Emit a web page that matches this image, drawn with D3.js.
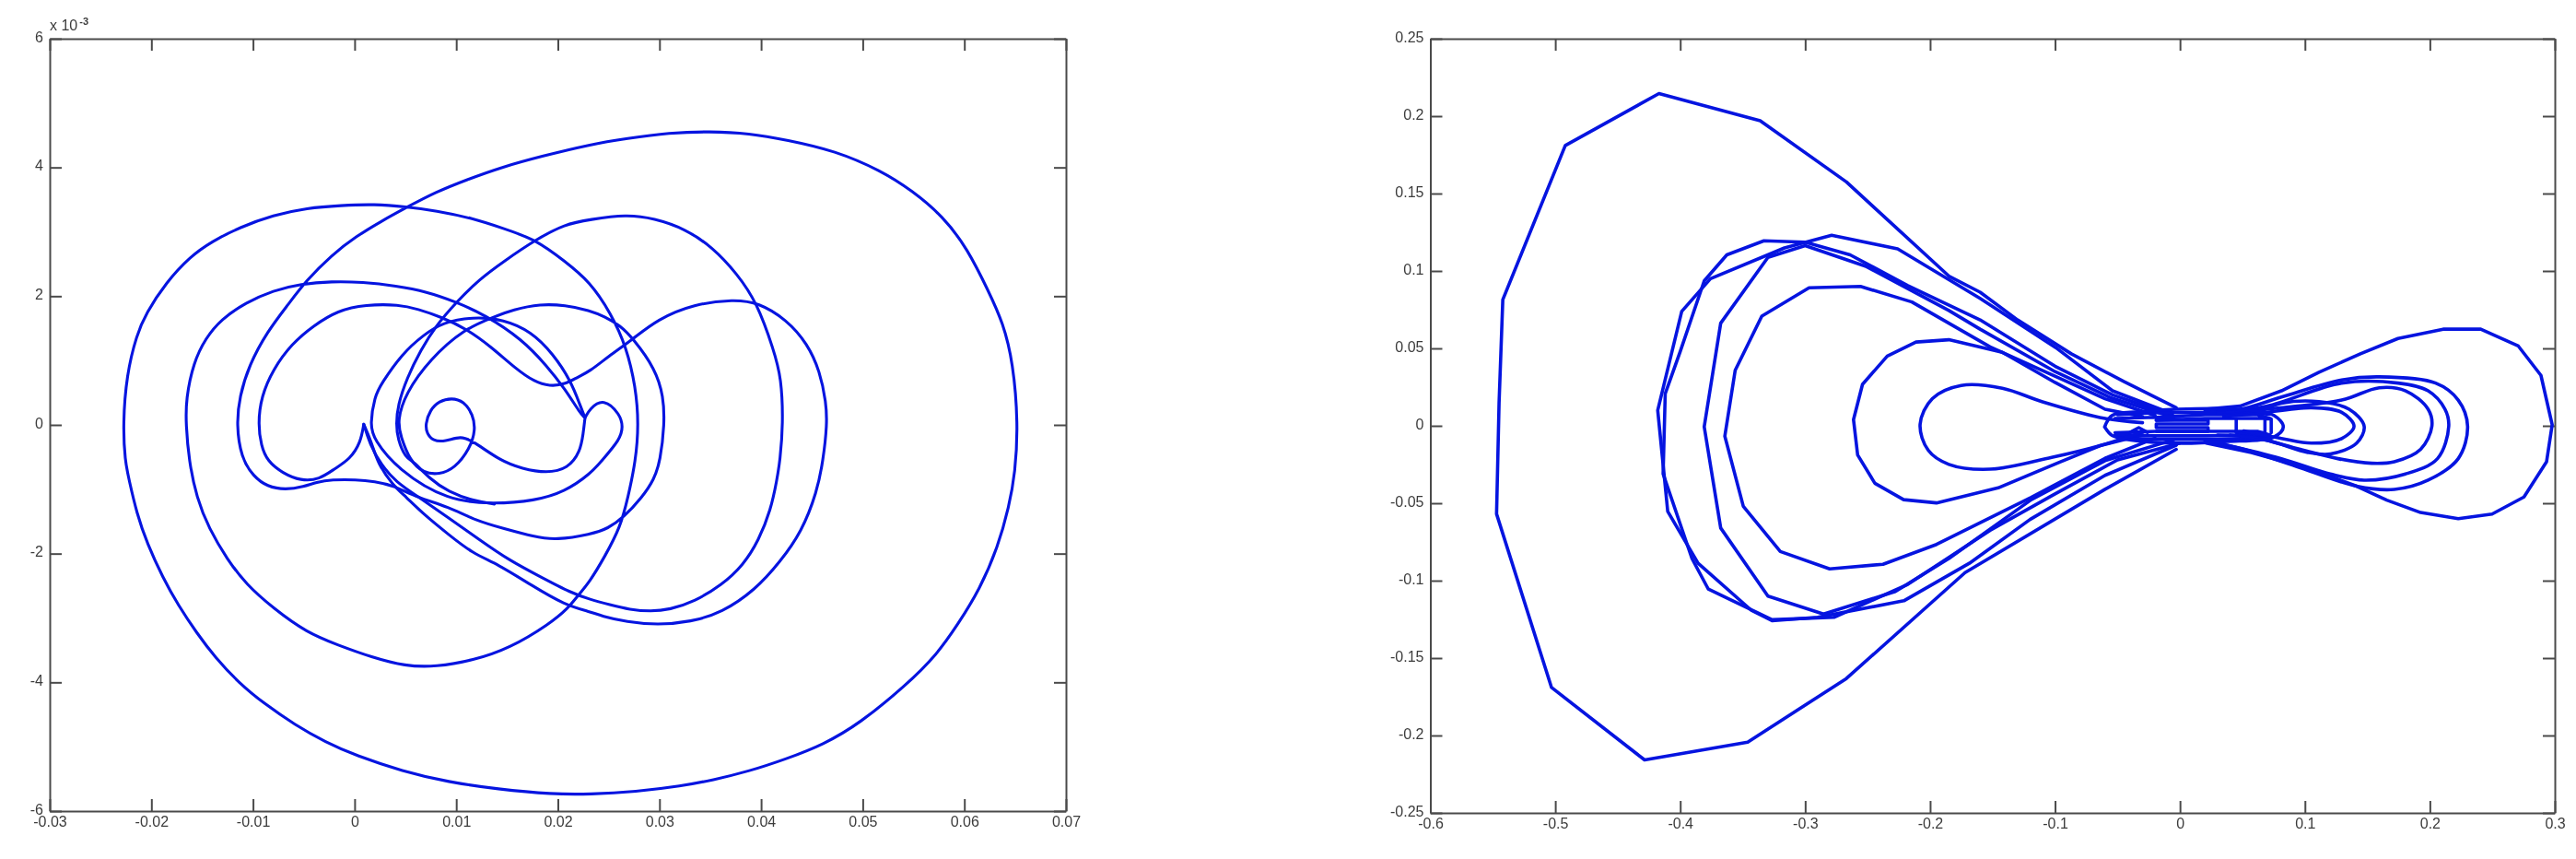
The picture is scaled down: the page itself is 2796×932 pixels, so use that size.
<!DOCTYPE html>
<html><head><meta charset="utf-8">
<script src="https://cdn.jsdelivr.net/npm/d3@7"></script>
<style>
html,body{margin:0;padding:0;background:#fff;overflow:hidden}
svg{display:block;filter:blur(0.6px)}
text{font-family:"Liberation Sans",Arial,sans-serif;font-size:16px;fill:#3c3c3c}
</style></head><body>
<svg id="chart" width="2796" height="932"></svg>
<script>
// ---------- left panel: x in units of 1e-3, y in units of 1e-3 ----------
const leftXTicks=[-0.03,-0.02,-0.01,0,0.01,0.02,0.03,0.04,0.05,0.06,0.07];
const leftXLabels=["-0.03","-0.02","-0.01","0","0.01","0.02","0.03","0.04","0.05","0.06","0.07"];
const leftYTicks=[-6,-4,-2,0,2,4,6];
const leftYLabels=["-6","-4","-2","0","2","4","6"];
const leftInnerArc=[[0.9,0.01],[0.6,-0.27],[-0.44,-0.53],[-1.96,-0.68],[-3.47,-0.85],[-5.28,-0.87],[-7.09,-0.75],[-8.6,-0.56],[-9.2,-0.32],[-9.5,0.01],[-9.2,0.44],[-8,0.87],[-6.19,1.26],[-4.07,1.54],[-1.65,1.78],[1.07,1.87],[4.39,1.87],[6.2,1.8],[8.48,1.68],[11.05,1.49],[13.46,1.21],[15.88,0.87],[17.69,0.67],[19.2,0.6],[20.7,0.63],[21.92,0.74],[23.13,0.83],[24.94,1.06],[27.36,1.33],[29.78,1.64],[33.4,1.88],[37.33,1.95],[39.75,1.9],[42.47,1.64],[44.58,1.26],[45.79,0.83],[46.4,0.35],[46.5,0.01],[46.1,-0.56],[45.5,-1.04],[44,-1.66],[41.86,-2.13],[39.45,-2.56],[36.12,-2.92],[33.1,-3.06],[29.8,-3.11],[26.75,-3.06],[24.3,-2.97],[23.13,-2.9],[20.7,-2.8],[17.38,-2.49],[14.06,-2.16],[11.64,-2],[9.22,-1.7],[6.8,-1.39],[5,-1.11],[3.79,-0.94],[2.27,-0.6],[1.67,-0.27],[0.9,0.01]];
const leftHookArc=[[22.67,0.11],[23.13,0.25],[24.5,0.42],[26.15,0.16],[26.4,-0.03],[26.15,-0.22],[24.3,-0.56],[23.27,-0.75],[20.7,-1.04],[17.7,-1.18],[13.76,-1.23],[9.14,-1.18],[4.27,-0.7],[1.86,-0.22],[1.52,0.01],[1.97,0.44],[2.58,0.63],[4.69,1.11],[6.81,1.4],[8.63,1.59],[11.65,1.68],[14.67,1.64],[17.38,1.45],[19.5,1.11],[21.3,0.68],[22.2,0.3],[22.67,0.11]];
const leftLongArc=[[22.67,0.11],[22.5,-0.13],[22.2,-0.42],[21,-0.68],[18.9,-0.75],[16.48,-0.68],[14.37,-0.56],[11.65,-0.25],[10.44,-0.17],[8.92,-0.26],[7.7,-0.25],[7.1,-0.13],[6.96,0.01],[7.41,0.23],[8.32,0.37],[9.53,0.42],[10.74,0.37],[11.65,0.16],[11.9,-0.08],[11.35,-0.37],[9.83,-0.68],[8.32,-0.77],[6.81,-0.75],[5.45,-0.56],[4.54,-0.18],[4.2,0.06],[5,0.49],[7.41,1.02],[10.75,1.49],[13.76,1.68],[15.57,1.79],[18.29,1.88],[20.7,1.86],[23.13,1.78],[24.64,1.68],[26.15,1.54],[27.36,1.35],[29.6,0.87],[30.4,0.44],[30.5,0.01],[30.08,-0.56],[29.47,-0.85],[28.27,-1.13],[26.45,-1.44],[24.94,-1.61],[23.27,-1.7],[19.8,-1.79],[17.69,-1.74],[14.67,-1.61],[11.95,-1.49],[9.22,-1.27],[6.2,-1.13],[3.79,-0.94],[1.98,-0.88],[0.16,-0.85],[-2.26,-0.85],[-3.77,-0.89],[-4.98,-0.96],[-6.8,-1.01],[-8.6,-0.96],[-9.96,-0.8],[-11.17,-0.51],[-11.63,0.01],[-11.32,0.44],[-10.41,0.92],[-8.6,1.45],[-6.49,1.88],[-4.83,2.23],[-2.26,2.64],[0.16,2.93],[2.58,3.16],[5,3.37],[8,3.62],[11.04,3.81],[14.37,4],[18.29,4.17],[23.27,4.36],[26.75,4.45],[30.99,4.54],[34.9,4.56],[38.84,4.53],[42.47,4.43],[47.3,4.26],[51.8,3.95],[54.86,3.64],[57.9,3.24],[60.3,2.74],[62.4,2.07],[63.8,1.59],[64.8,0.97],[65.3,0.01],[65,-0.75],[64.4,-1.27],[63.3,-1.9],[61.5,-2.56],[59.4,-3.09],[57.3,-3.57],[54.3,-4.04],[49.7,-4.64],[46.1,-4.97],[42.47,-5.19],[38.84,-5.38],[35.2,-5.52],[32.2,-5.61],[27.66,-5.7],[23.13,-5.74],[19.5,-5.74],[14.06,-5.66],[9.22,-5.55],[4.7,-5.38],[0.16,-5.14],[-2.86,-4.93],[-5.88,-4.66],[-8.9,-4.33],[-11.32,-4.02],[-13.74,-3.61],[-15.55,-3.23],[-17.37,-2.8],[-18.88,-2.37],[-20.4,-1.85],[-21.45,-1.37],[-22.2,-0.85],[-22.6,-0.56],[-22.8,0.01],[-22.44,0.78],[-21.45,1.4],[-20.54,1.73],[-18.57,2.21],[-16.16,2.62],[-14.04,2.85],[-11.32,3.07],[-8,3.26],[-4.68,3.37],[-1.35,3.41],[1.97,3.43],[5,3.39],[8,3.33],[11.65,3.21],[14.67,3.05],[17.84,2.88],[20.7,2.54],[23.13,2.23],[25.24,1.73],[26.75,1.21],[27.66,0.59],[27.96,0.01],[27.66,-0.56],[26.9,-1.13],[26.15,-1.59],[24.64,-2.04],[23.13,-2.44],[21.92,-2.66],[21,-2.85],[19.2,-3.09],[15.27,-3.47],[11.65,-3.66],[8,-3.76],[5,-3.75],[1.67,-3.61],[-1.65,-3.42],[-4.68,-3.23],[-8,-2.85],[-10.72,-2.47],[-12.53,-2.09],[-14.34,-1.61],[-15.55,-1.13],[-16.3,-0.56],[-16.6,0.01],[-16.6,0.4],[-15.86,0.97],[-14.65,1.35],[-13.14,1.64],[-10.72,1.9],[-8,2.09],[-5.28,2.19],[-2.26,2.23],[0.76,2.22],[4.09,2.16],[7.11,2.07],[9.83,1.92],[12.85,1.71],[16.48,1.33],[18.9,0.92],[20.7,0.56],[22.2,0.18],[22.67,0.11]];
const leftMiddleArc=[[0.9,0.01],[1.5,-0.3],[2.6,-0.62],[4.09,-0.89],[6.2,-1.11],[9.22,-1.44],[12.25,-1.78],[15.27,-2.11],[18.29,-2.36],[21.3,-2.61],[23.13,-2.71],[25.24,-2.8],[27.05,-2.87],[29.17,-2.9],[30.99,-2.87],[33.4,-2.75],[36.12,-2.49],[38.24,-2.18],[39.75,-1.8],[40.96,-1.32],[41.56,-0.85],[41.86,-0.56],[42.17,0.01],[42,0.73],[41.25,1.16],[39.6,1.9],[37.63,2.35],[35.22,2.76],[32.5,3.05],[29.47,3.21],[26.75,3.27],[23.13,3.19],[20.7,3.12],[17.84,2.88],[14.67,2.54],[12.25,2.26],[9.98,1.9],[8,1.54],[6.5,1.16],[5.15,0.73],[4.24,0.3],[4.09,0.01],[4.24,-0.22],[5,-0.51],[5.75,-0.56],[7.41,-0.84],[9.22,-1.04],[11.64,-1.18],[13.76,-1.23]];

// ---------- right panel ----------
const rightXTicks=[-0.6,-0.5,-0.4,-0.3,-0.2,-0.1,0,0.1,0.2,0.3];
const rightXLabels=["-0.6","-0.5","-0.4","-0.3","-0.2","-0.1","0","0.1","0.2","0.3"];
const rightYTicks=[-0.25,-0.2,-0.15,-0.1,-0.05,0,0.05,0.1,0.15,0.2,0.25];
const rightYLabels=["-0.25","-0.2","-0.15","-0.1","-0.05","0","0.05","0.1","0.15","0.2","0.25"];
const lobeL1=[[-0.003,0.0117],[-0.045,0.0286],[-0.087,0.0465],[-0.13,0.0684],[-0.16,0.0863],[-0.185,0.0967],[-0.267,0.1575],[-0.336,0.197],[-0.417,0.2146],[-0.492,0.181],[-0.542,0.0815],[-0.545,0.0146],[-0.547,-0.0569],[-0.503,-0.169],[-0.4285,-0.2158],[-0.346,-0.2043],[-0.267,-0.1632],[-0.172,-0.0948],[-0.06,-0.041],[-0.003,-0.0152]];
const lobeL2=[[-0.009,0.0087],[-0.054,0.0226],[-0.0994,0.0505],[-0.16,0.0823],[-0.226,0.1143],[-0.2788,0.123],[-0.3166,0.1149],[-0.3758,0.095],[-0.3988,0.0739],[-0.418,0.01],[-0.41,-0.0553],[-0.3857,-0.0888],[-0.343,-0.1192],[-0.3265,-0.1259],[-0.29,-0.1237],[-0.221,-0.113],[-0.1686,-0.0888],[-0.12,-0.0605],[-0.06,-0.032],[-0.003,-0.0125]];
const lobeL3=[[-0.006,0.007],[-0.054,0.02],[-0.1,0.0385],[-0.16,0.0684],[-0.2179,0.0906],[-0.264,0.1104],[-0.3,0.1186],[-0.333,0.1195],[-0.3627,0.1104],[-0.3808,0.0936],[-0.4,0.048],[-0.412,0.0207],[-0.4137,-0.031],[-0.3906,-0.0857],[-0.3775,-0.1055],[-0.3265,-0.1252],[-0.277,-0.1237],[-0.2179,-0.1024],[-0.152,-0.0675],[-0.1,-0.044],[-0.05,-0.022],[0,-0.0112]];
const lobeL4=[[-0.01,0.0067],[-0.055,0.018],[-0.1,0.035],[-0.16,0.0624],[-0.185,0.0745],[-0.2508,0.1028],[-0.3,0.1164],[-0.3298,0.1088],[-0.3676,0.0663],[-0.3808,-0.0006],[-0.3676,-0.066],[-0.3298,-0.11],[-0.2853,-0.1216],[-0.2278,-0.107],[-0.185,-0.0857],[-0.119,-0.0477],[-0.06,-0.0225],[-0.005,-0.009]];
const lobeL5=[[-0.02,0.0067],[-0.06,0.0175],[-0.152,0.051],[-0.2146,0.08],[-0.2557,0.09],[-0.2969,0.0891],[-0.3347,0.0708],[-0.356,0.0359],[-0.3643,-0.0067],[-0.3495,-0.052],[-0.3199,-0.0812],[-0.2804,-0.0924],[-0.2377,-0.0894],[-0.1949,-0.0766],[-0.119,-0.0462],[-0.06,-0.021],[-0.02,-0.008]];
const lobeL6=[[-0.03,0.006],[-0.06,0.0107],[-0.1,0.028],[-0.1422,0.0475],[-0.185,0.0556],[-0.2113,0.0541],[-0.2343,0.045],[-0.2541,0.0268],[-0.2613,0.004],[-0.258,-0.0188],[-0.2442,-0.0371],[-0.2212,-0.0477],[-0.1949,-0.0498],[-0.1455,-0.0401],[-0.0962,-0.0234],[-0.0639,-0.0128],[-0.03,-0.006]];
const lobeL7=[[-0.03,0.002],[-0.06,0.0047],[-0.11,0.0155],[-0.1422,0.0243],[-0.1751,0.0261],[-0.1982,0.0176],[-0.208,0.0009],[-0.2015,-0.0158],[-0.185,-0.0249],[-0.152,-0.028],[-0.1027,-0.0204],[-0.0639,-0.0128],[-0.03,-0.004]];
const lobeR1=[[0.02,0.0107],[0.0481,0.0127],[0.0812,0.0226],[0.1113,0.0346],[0.1444,0.0465],[0.1745,0.0564],[0.2106,0.0624],[0.2407,0.0624],[0.2708,0.0515],[0.2889,0.0326],[0.2979,0.0007],[0.2934,-0.0232],[0.2753,-0.046],[0.2498,-0.057],[0.2227,-0.06],[0.1926,-0.056],[0.1655,-0.048],[0.1414,-0.039],[0.1053,-0.0281],[0.0571,-0.0172],[0.021,-0.0112]];
const lobeR2=[[0.02,0.0095],[0.0481,0.0107],[0.0812,0.0186],[0.1294,0.0296],[0.1595,0.0316],[0.2046,0.0276],[0.2227,0.0166],[0.2302,-0.0003],[0.2227,-0.0212],[0.1986,-0.0351],[0.1715,-0.0411],[0.1414,-0.039],[0.0963,-0.0271],[0.0511,-0.0152],[0.02,-0.0095]];
const lobeR3=[[0.03,0.009],[0.0692,0.0127],[0.1294,0.0276],[0.1745,0.0276],[0.1986,0.0226],[0.2121,0.0107],[0.2151,-0.0003],[0.2061,-0.0212],[0.1805,-0.0311],[0.1474,-0.0351],[0.1203,-0.0311],[0.0812,-0.0212],[0.036,-0.0122]];
const lobeR4=[[0.03,0.008],[0.0692,0.0107],[0.1294,0.0166],[0.1595,0.0246],[0.1806,0.0226],[0.1986,0.0107],[0.2016,-0.0003],[0.1926,-0.0152],[0.1715,-0.0232],[0.1535,-0.0242],[0.1264,-0.0212],[0.0963,-0.0152],[0.0571,-0.0072],[0.03,-0.006]];
const lobeR5=[[0.035,0.007],[0.0601,0.0087],[0.0812,0.0146],[0.1113,0.0156],[0.1354,0.0107],[0.1474,-0.0003],[0.1414,-0.0112],[0.1203,-0.0182],[0.1023,-0.0172],[0.0692,-0.0092],[0.04,-0.006]];
const lobeR6=[[0.035,0.006],[0.0601,0.0077],[0.1053,0.0117],[0.1294,0.0087],[0.1393,-0.0003],[0.1294,-0.0082],[0.1053,-0.0112],[0.0812,-0.0082],[0.0511,-0.0033]];
const coreOuter=[[-0.0603,-0.0007],[-0.0543,0.0067],[-0.033,0.0091],[-0.003,0.0107],[0.045,0.0107],[0.0752,0.0067],[0.0827,-0.0007],[0.0752,-0.0072],[0.036,-0.0102],[-0.003,-0.0112],[-0.039,-0.0092],[-0.0543,-0.0062],[-0.0603,-0.0007]];
const coreUpper=[[-0.052,0.0048],[-0.019,0.0055],[0.02,0.0071],[0.062,0.0071],[0.072,0.0048],[0.02,0.0048],[-0.019,0.0036]];
const coreLower=[[-0.052,-0.0045],[-0.019,-0.0036],[0.02,-0.0036],[0.062,-0.0036],[0.072,-0.006],[0.02,-0.0065],[-0.019,-0.0065],[-0.052,-0.006]];
const coreTopBand=[[-0.05,0.0072],[-0.019,0.0085],[0.05,0.0088],[0.072,0.0075]];
const coreBottomBand=[[-0.05,-0.0078],[-0.019,-0.0088],[0.03,-0.0088],[0.07,-0.0078]];
const coreFill=[[-0.019,0.0036],[0.0225,0.0036],[0.0225,0.0012],[-0.019,0.0012],[-0.019,-0.0012],[0.0225,-0.0012],[0.0225,-0.0036],[-0.019,-0.0036]];
const coreDividers=[[0.045,0.0045],[0.045,-0.0045],[0.068,-0.0045],[0.068,0.0045],[0.073,0.0045],[0.073,-0.0045]];
const coreBump=[[-0.04,-0.0042],[-0.033,-0.0012],[-0.026,-0.0042]];

const leftArcs=[leftInnerArc,leftHookArc,leftLongArc,leftMiddleArc];
const rightPolygons=[lobeL1,lobeL2,lobeL3,lobeL4,lobeL5,lobeL6,lobeR1,coreUpper,coreLower,coreTopBand,coreBottomBand,coreFill,coreDividers,coreBump];
const rightSmooth=[lobeL7,lobeR2,lobeR3,lobeR4,lobeR5,lobeR6,coreOuter];

const BLUE="#0514e0", AXIS="#4a4a4a";
const svg=d3.select("#chart");

function panel(box,xDom,yDom,xT,xL,yT,yL){
  const x=d3.scaleLinear().domain(xDom).range([box.l,box.r]);
  const y=d3.scaleLinear().domain(yDom).range([box.b,box.t]);
  const g=svg.append("g");
  const bottom=d3.axisBottom(x).tickValues(xT).tickFormat((d,i)=>xL[i]).tickSizeInner(-13).tickSizeOuter(0).tickPadding(5.5);
  const left=d3.axisLeft(y).tickValues(yT).tickFormat((d,i)=>yL[i]).tickSizeInner(-13).tickSizeOuter(0).tickPadding(7);
  const top=d3.axisTop(x).tickValues(xT).tickFormat("").tickSizeInner(-13).tickSizeOuter(0);
  const right=d3.axisRight(y).tickValues(yT).tickFormat("").tickSizeInner(-13).tickSizeOuter(0);
  const gb=g.append("g").attr("transform",`translate(0,${box.b})`).call(bottom);
  const gl=g.append("g").attr("transform",`translate(${box.l},0)`).call(left);
  const gt=g.append("g").attr("transform",`translate(0,${box.t})`).call(top);
  const gr=g.append("g").attr("transform",`translate(${box.r},0)`).call(right);
  gl.selectAll("text").attr("y",-2);
  [gb,gl,gt,gr].forEach(a=>{a.selectAll("path,line").attr("stroke",AXIS).attr("stroke-width",2);
    a.selectAll("text").style("font-size","16px").style("fill","#3c3c3c");a.attr("font-family",null).attr("font-size",null);});
  return {x,y,g};
}

const L=panel({l:54,r:1157,t:42,b:880},[-0.03,0.07],[-6,6],leftXTicks,leftXLabels,leftYTicks,leftYLabels);
const R=panel({l:1552.5,r:2773,t:42,b:882},[-0.6,0.3],[-0.25,0.25],rightXTicks,rightXLabels,rightYTicks,rightYLabels);

const leftLine=d3.line().x(d=>L.x(d[0]/1000)).y(d=>L.y(d[1])).curve(d3.curveBasis);
const rightPoly=d3.line().x(d=>R.x(d[0])).y(d=>R.y(d[1])).curve(d3.curveLinear);
const rightCurve=d3.line().x(d=>R.x(d[0])).y(d=>R.y(d[1])).curve(d3.curveCatmullRom.alpha(0.5));
function style(sel,w){return sel.attr("fill","none").attr("stroke",BLUE).attr("stroke-width",w).attr("stroke-linejoin","round").attr("stroke-linecap","round");}
style(L.g.selectAll("path.traj").data(leftArcs).join("path").attr("class","traj").attr("d",leftLine),3.1);
style(R.g.selectAll("path.poly").data(rightPolygons).join("path").attr("class","poly").attr("d",rightPoly),3.6);
style(R.g.selectAll("path.smooth").data(rightSmooth).join("path").attr("class","smooth").attr("d",rightCurve),3.6);

// axis multiplier of the left panel
const mult=L.g.append("text").attr("x",54).attr("y",33);
mult.append("tspan").text("x 10");
mult.append("tspan").attr("dx",2).attr("dy",-6).style("font-size","11px").style("font-weight","bold").text("-3");
</script>
</body></html>
